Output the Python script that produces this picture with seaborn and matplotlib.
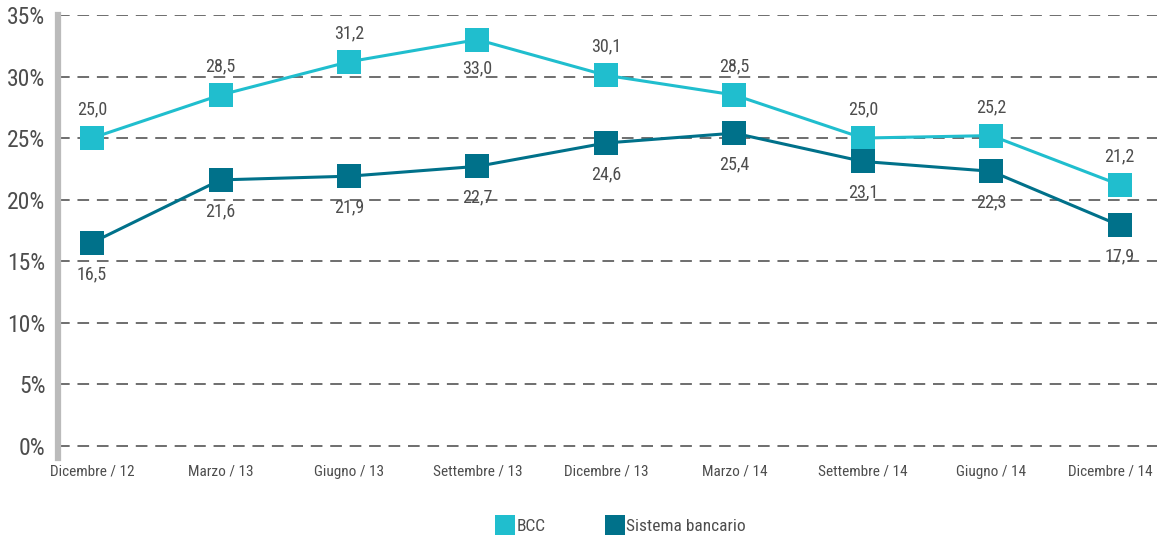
import matplotlib
matplotlib.use("Agg")
import matplotlib.pyplot as plt
import matplotlib.transforms as mtransforms
from matplotlib.lines import Line2D
from matplotlib import font_manager
import pandas as pd
import seaborn as sns

periodi = ["Dicembre / 12", "Marzo / 13", "Giugno / 13", "Settembre / 13", "Dicembre / 13",
           "Marzo / 14", "Settembre / 14", "Giugno / 14", "Dicembre / 14"]
bcc = [25.0, 28.5, 31.2, 33.0, 30.1, 28.5, 25.0, 25.2, 21.2]
sistema = [16.5, 21.6, 21.9, 22.7, 24.6, 25.4, 23.1, 22.3, 17.9]
serie = ["BCC", "Sistema bancario"]
colori = {"BCC": "#20BECE", "Sistema bancario": "#00718A"}

sns.set_style("white")

# cerca un carattere stretto tra quelli installati
fonts = font_manager.fontManager.ttflist
scelta = None
for nome in ["Liberation Sans Narrow", "Roboto Condensed", "Open Sans Condensed", "Noto Sans Condensed"]:
    if any(f.name == nome for f in fonts):
        scelta = (nome, "normal")
        break
if scelta is None:
    for f in fonts:
        if f.stretch in ("condensed", "semi-condensed", "extra-condensed", 500 - 125) \
                and f.style == "normal" and f.weight in ("normal", 400, "regular"):
            scelta = (f.name, f.stretch)
            break
if scelta is None:
    scelta = ("Roboto", "normal")
plt.rcParams["font.family"] = [scelta[0], "DejaVu Sans"]
plt.rcParams["font.stretch"] = scelta[1]
k = 1.0 if scelta[0] != "Roboto" else 0.85
testo = "#4d4d4d"

df = pd.DataFrame({
    "periodo": periodi * 2,
    "valore": bcc + sistema,
    "serie": [serie[0]] * len(periodi) + [serie[1]] * len(periodi),
})
df["pos"] = df["periodo"].map({p: i for i, p in enumerate(periodi)})

fig = plt.figure(figsize=(11.57, 5.47), dpi=100)
ax = fig.add_axes([58 / 1157, 1 - 458 / 547, 1 - 58 / 1157, 443 / 547])

sns.lineplot(data=df, x="pos", y="valore", hue="serie", style="serie",
             markers={"BCC": "s", "Sistema bancario": "s"}, dashes=False,
             palette=colori, markersize=17, linewidth=2.2, markeredgewidth=0,
             sort=False, legend=False, ax=ax, zorder=3)

# etichette dei valori
for i, v in enumerate(bcc):
    sotto = periodi[i] == "Settembre / 13"
    ax.annotate(f"{v:.1f}".replace(".", ","), (i, v), xytext=(0, -14 if sotto else 14),
                textcoords="offset points", ha="center", va="top" if sotto else "bottom",
                fontsize=13 * k, color=testo, zorder=4)
for i, v in enumerate(sistema):
    ax.annotate(f"{v:.1f}".replace(".", ","), (i, v), xytext=(0, -16),
                textcoords="offset points", ha="center", va="top",
                fontsize=13 * k, color=testo, zorder=4)

ax.set_xlim(-0.265, 8.29)
ax.set_ylim(-1, 35)
ax.set_yticks(range(0, 36, 5))
ax.set_yticklabels([f"{t}%" for t in range(0, 36, 5)], fontsize=17 * k, color=testo)
ax.set_xticks(range(len(periodi)))
ax.set_xticklabels(periodi, fontsize=11 * k, color=testo)
ax.tick_params(axis="both", length=0)
ax.tick_params(axis="y", pad=9)
ax.tick_params(axis="x", pad=5)
ax.set_xlabel("")
ax.set_ylabel("")

# l'ultima etichetta è spostata un po' a sinistra per restare nel riquadro
ultima = ax.get_xticklabels()[-1]
ultima.set_transform(ultima.get_transform()
                     + mtransforms.ScaledTranslation(-9 / 100, 0, fig.dpi_scale_trans))

for t in range(0, 36, 5):
    ax.axhline(t, color="#6e6e6e", linewidth=1.4, dashes=(6, 4), zorder=1)

for s in ["top", "right", "bottom"]:
    ax.spines[s].set_visible(False)
ax.spines["left"].set_color("#bbbbbb")
ax.spines["left"].set_linewidth(4.5)

handles = [Line2D([], [], marker="s", linestyle="none", markersize=14.5,
                  markerfacecolor=colori[s], markeredgewidth=0) for s in serie]
fig.legend(handles, serie, loc="lower center", bbox_to_anchor=(0.537, -0.005), ncol=2,
           frameon=False, fontsize=12.5 * k, labelcolor=testo, handletextpad=0.15,
           columnspacing=3.5, handlelength=1)

fig.savefig("out.png", dpi=100)
